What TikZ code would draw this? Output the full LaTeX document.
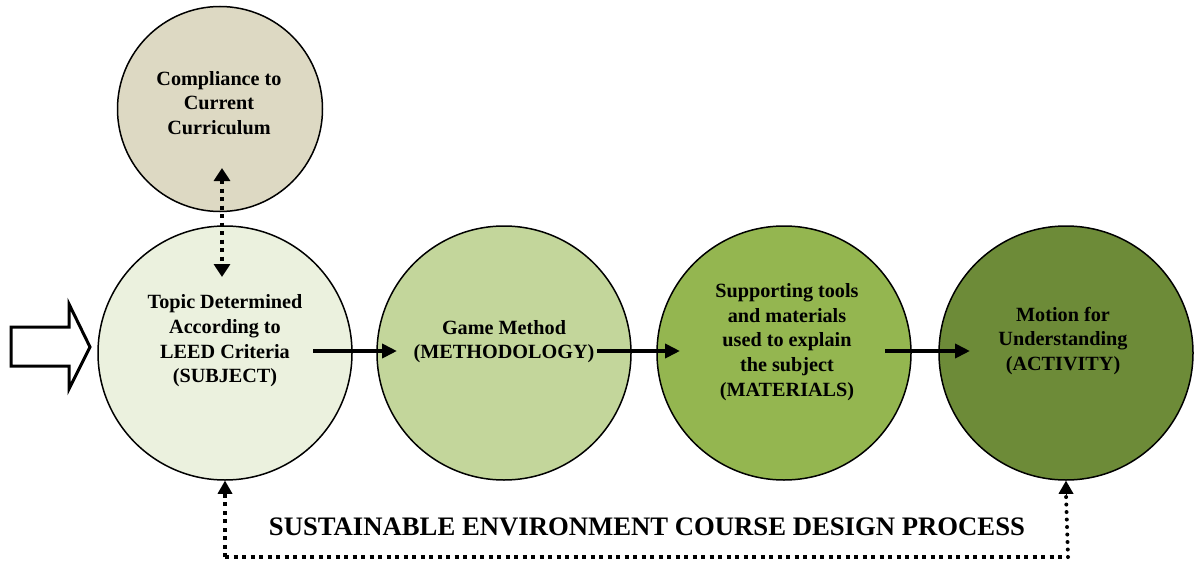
\documentclass[tikz,border=0pt]{standalone}
\usepackage{fontspec}
\setmainfont{Liberation Serif}
\usetikzlibrary{arrows.meta,calc}

\definecolor{tanfill}{HTML}{DDD9C3}
\definecolor{greenA}{HTML}{EBF1DE}
\definecolor{greenB}{HTML}{C3D69B}
\definecolor{greenC}{HTML}{94B650}
\definecolor{greenD}{HTML}{6D8B38}

\tikzset{
  stage/.style={circle, draw=black, line width=1.5pt, minimum size=254pt, inner sep=0pt},
  stagetext/.style={align=center, inner sep=0pt, font=\bfseries\fontsize{20.2}{24.6}\selectfont, text=black},
  flow/.style={line width=4.5pt, -{Triangle[length=15pt,width=14pt]}},
  dotlink/.style={line width=4pt, dash pattern=on 4pt off 4.5pt},
  roundlink/.style={line width=4pt, line cap=round, dash pattern=on 0pt off 7.5pt},
  bighead/.style={-{Triangle[length=13pt,width=15pt]}},
}

\begin{document}
\begin{tikzpicture}[x=1pt,y=-1pt]
\useasboundingbox (0,0) rectangle (1194,562);

% curriculum circle on top
\node[stage, fill=tanfill, minimum size=205pt] (cur) at (220,109) {};
\node[stagetext] (curtext) at (219,103) {Compliance to\\Current\\Curriculum};

% the four process stages
\node[stage, fill=greenA] (s1) at (225,353) {};
\node[stage, fill=greenB] (s2) at (504,353) {};
\node[stage, fill=greenC] (s3) at (784,353) {};
\node[stage, fill=greenD] (s4) at (1066,353) {};
\node[stagetext] (s1text) at (225,341) {Topic Determined\\According to\\LEED Criteria\\(SUBJECT)};
\node[stagetext] (s2text) at (504,341.5) {Game Method\\(METHODOLOGY)};
\node[stagetext] (s3text) at (787,342) {Supporting tools\\and materials\\used to explain\\the subject\\(MATERIALS)};
\node[stagetext] (s4text) at (1063,341) {Motion for\\Understanding\\(ACTIVITY)};

% entry arrow (hollow)
\draw[line width=3pt, line join=miter, fill=white]
  (11,327) -- (69,327) -- (69,304) -- (90,347) -- (69,389) -- (69,366) -- (11,366) -- cycle;

% forward arrows between the stages
\coordinate (f1a) at (313,351); \coordinate (f1b) at (397,351);
\coordinate (f2a) at (597,351); \coordinate (f2b) at (680,351);
\coordinate (f3a) at (885,351); \coordinate (f3b) at (970,351);
\draw[flow] (f1a) -- (f1b);
\draw[flow] (f2a) -- (f2b);
\draw[flow] (f3a) -- (f3b);

% two-way link to the curriculum
\coordinate (vtop) at (222,168);
\coordinate (vbot) at (222,277);
\draw[dotlink, {Triangle[length=13pt,width=16pt]}-{Triangle[length=13pt,width=16pt]}] (vtop) -- (vbot);

% feedback loop along the bottom
\coordinate (lbl) at (225,557);
\coordinate (lbr) at (1068,557);
\draw[dotlink] (lbl) -- (lbr);
\draw[dotlink] (lbl) -- ($(s1.south)+(0,12)$);
\draw[bighead, line width=0pt] ($(s1.south)+(0,14)$) -- (s1.south);
\draw[roundlink] (lbr) -- ($(s4.south)+(0,14)$);
\draw[bighead, line width=0pt] ($(s4.south)+(0,14)$) -- (s4.south);

\node[font=\bfseries\fontsize{26.7}{30}\selectfont, inner sep=0pt] (title) at (647,527)
  {SUSTAINABLE ENVIRONMENT COURSE DESIGN PROCESS};
\end{tikzpicture}
\end{document}
